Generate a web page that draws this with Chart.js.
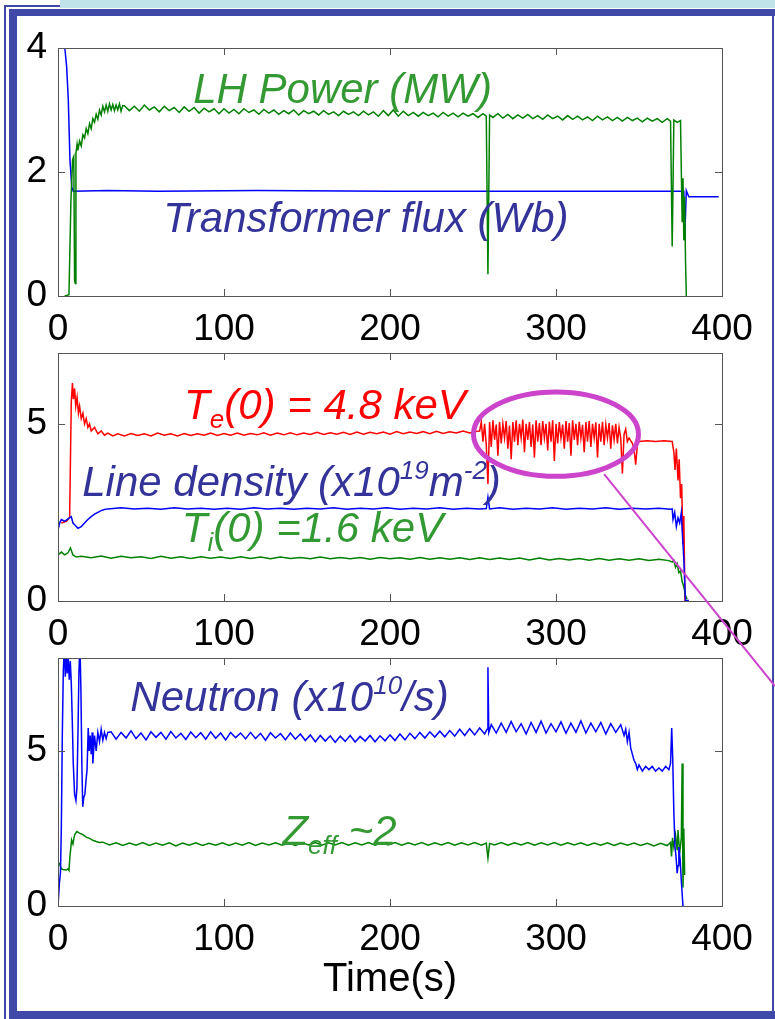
<!DOCTYPE html>
<html>
<head>
<meta charset="utf-8">
<script src="https://cdn.jsdelivr.net/npm/chart.js@4.4.1/dist/chart.umd.min.js"></script>
<style>
  body { margin: 0; background: #fff; width: 775px; height: 1019px; position: relative; overflow: hidden; }
  canvas { position: absolute; left: 0; }
  .f { position: absolute; background: #4048a8; z-index: 3; }
</style>
</head>
<body>
<div class="f" style="left:60px;top:0;width:715px;height:8px;background:#bfe3e8"></div>
<div class="f" style="left:4px;top:5px;width:2px;height:1014px"></div>
<div class="f" style="left:4px;top:5px;width:56px;height:2px"></div>
<div class="f" style="left:9px;top:9px;width:766px;height:7px"></div>
<div class="f" style="left:9px;top:9px;width:8px;height:1010px"></div>
<div class="f" style="left:9px;top:1011px;width:766px;height:8px"></div>
<div class="f" style="left:772px;top:16px;width:2px;height:995px"></div>

<canvas id="c1" width="775" height="350" style="top:0"></canvas>
<canvas id="c2" width="775" height="345" style="top:310px"></canvas>
<canvas id="c3" width="775" height="404" style="top:615px"></canvas>
<canvas id="over" width="775" height="1019" style="top:0;z-index:5;pointer-events:none"></canvas>

<script>
// ---- data (time in s, value) ----
const xTicks = [0, 100, 200, 300, 400];
const yTicks1 = [0, 2, 4];
const yTicks2 = [0, 5];
const yTicks3 = [0, 5];

const lhPower = [[4,0],[6.6,0.02],[7.2,0.8],[7.8,1.55],[8.8,2.2],[9.5,2.25],[10,0.25],[10.4,0.2],[10.8,2.3],[11.5,2.45],[12,2.35],[13,2.5],[14,2.42],[15,2.6],[16,2.55],[17,2.7],[18,2.62],[19,2.78],[20,2.7],[21,2.86],[22,2.8],[23,2.93],[24,2.85],[25,3.0],[26,2.92],[27,3.06],[28,2.97],[29,3.08],[30,2.98],[31,3.1],[32,3.0],[33,3.09],[34,2.99],[35,3.08],[36,3.0],[37,3.1],[38,2.98],[39,3.07],
  [40,3.07],[43,2.99],[46,3.06],[49,2.98],[52,3.08],[55,3.0],[58,3.05],[61,2.97],[64,3.06],[67,2.99],[70,3.04],[73,2.96],[76,3.05],[79,2.98],[82,3.04],[85,2.95],[88,3.03],[91,2.97],[94,3.02],[97,2.94],[100,3.02],[103,2.95],[106,3.01],[109,2.94],[112,3.02],[115,2.96],[118,3.0],[121,2.93],[124,3.01],[127,2.95],[130,3.0],[133,2.93],[136,2.99],[139,2.94],[142,3.0],[145,2.92],[148,2.99],[151,2.94],[154,2.98],[157,2.92],[160,2.99],[163,2.93],[166,2.97],[169,2.91],[172,2.98],[175,2.93],[178,2.97],[181,2.91],[184,2.98],[187,2.92],[190,2.97],[193,2.9],[196,2.99],[199,2.91],[202,3.0],[205,2.9],[208,2.98],[211,2.91],[214,2.96],[217,2.9],[220,2.96],[223,2.91],[226,2.95],[229,2.89],[232,2.96],[235,2.9],[238,2.95],[241,2.89],[244,2.95],[247,2.9],[250,2.94],[253,2.88],[256,2.94],[258,2.9],[259,0.35],[260,2.92],[262,2.88],[265,2.94],[268,2.87],[271,2.93],[274,2.86],[277,2.92],[280,2.87],[283,2.93],[286,2.86],[289,2.91],[292,2.85],[295,2.92],[298,2.86],[301,2.9],[304,2.84],[307,2.91],[310,2.85],[313,2.9],[316,2.84],[319,2.89],[322,2.83],[325,2.9],[328,2.84],[331,2.89],[334,2.83],[337,2.88],[340,2.82],[343,2.88],[346,2.83],[349,2.87],[352,2.81],[355,2.87],[358,2.82],[361,2.86],[364,2.8],[367,2.86],[369,2.82],[370,0.8],[371,2.84],[373,2.8],[375,2.83],[376,1.2],[376.5,1.9],[377,0.9],[377.5,1.6],[378,0.6],[378.5,0]];

const transformerFlux = [[0,4.3],[3.5,4.1],[4.2,3.98],[5.2,3.7],[6.2,3.17],[7.2,2.2],[8.3,1.76],[9.2,1.69],[30,1.7],[60,1.69],[120,1.7],[200,1.69],[260,1.69],[300,1.69],[376,1.69],[377,1.69],[377.5,0.9],[378.5,1.7],[380,1.6],[398,1.6]];

const teCentral = [[2,2.2],[5,2.25],[7,2.35],[7.5,4.0],[8,5.6],[8.7,6.15],[9.3,5.7],[10,6.0],[10.7,5.5],[11.5,5.75],[12.3,5.3],[13,5.5],[14,5.15],[15,5.3],[16,5.0],[17,5.15],[18,4.9],[19,5.0],[20,4.8],[22,4.9],[24,4.72],[26,4.8],[28,4.68],[30,4.74],[33,4.66],
  [36,4.72],[40,4.66],[44,4.73],[48,4.67],[52,4.72],[56,4.66],[60,4.74],[64,4.68],[68,4.72],[72,4.66],[76,4.73],[80,4.67],[84,4.72],[88,4.68],[92,4.74],[96,4.67],[100,4.73],[104,4.68],[108,4.74],[112,4.68],[116,4.73],[120,4.69],[124,4.75],[128,4.68],[132,4.74],[136,4.69],[140,4.75],[144,4.69],[148,4.74],[152,4.7],[156,4.76],[160,4.7],[164,4.75],[168,4.71],[172,4.76],[176,4.7],[180,4.77],[184,4.71],[188,4.76],[192,4.72],[196,4.77],[200,4.71],[204,4.78],[208,4.72],[212,4.77],[216,4.73],[220,4.78],[224,4.72],[228,4.79],[232,4.73],[236,4.78],[240,4.74],[244,4.8],[248,4.74],[252,4.79],
  [254,4.8],[255,5.05],[256,4.5],[257,5.0],[258,4.4],[259,3.3],[260,5.05],[261,4.35],[262,5.1],[263,4.55],[264,4.98],[265,4.1],[266,5.05],[267,4.45],[268,5.0],[269,4.6],[270,5.08],[271,4.3],[272,4.95],[273,4.0],[274,5.05],[275,4.5],[276,5.1],[277,4.4],[278,5.0],[279,4.6],[280,5.12],[281,4.2],[282,5.0],[283,4.55],[284,5.05],[285,4.35],[286,4.98],[287,4.05],[288,5.1],[289,4.5],[290,5.02],[291,4.4],[292,5.08],[293,4.6],[294,5.0],[295,4.25],[296,5.06],[297,4.5],[298,5.1],[299,3.95],[300,5.0],[301,4.45],[302,5.05],[303,4.6],[304,4.98],[305,4.3],[306,5.08],[307,4.5],[308,5.02],[309,4.1],[310,5.1],[311,4.55],[312,5.0],[313,4.4],[314,5.06],[315,4.6],[316,4.97],[317,4.2],[318,5.05],[319,4.5],[320,5.08],[321,4.35],[322,5.0],[323,4.6],[324,5.04],[325,4.05],[326,5.0],[327,4.5],[328,5.06],[329,4.4],[330,4.98],[331,4.6],[332,5.02],[333,4.3],[334,4.96],[335,4.55],[336,5.0],[337,4.45],[338,4.9],[339,4.6],[340,3.6],[341,4.7],[342,4.85],[343,4.5],[344,4.6],[346,4.45],[347,4.3],[348,3.85],[349,4.4],[350,4.5],[355,4.52],[360,4.5],[365,4.52],[370,4.5],[371,4.2],[371.7,3.7],[372.5,4.3],[373.5,3.4],[374.2,4.0],[375,2.9],[375.7,3.3],[376.5,1.6],[377,2.4],[377.7,0]];

const lineDensity = [[0,2.0],[1,2.2],[2,2.3],[4,2.25],[6,2.32],[8,2.38],[9,2.2],[10,2.15],[12,2.05],[14,2.1],[16,2.2],[18,2.3],[20,2.38],[22,2.45],[24,2.5],[26,2.55],[28,2.58],
  [30,2.6],[38,2.63],[46,2.6],[54,2.62],[62,2.59],[70,2.63],[78,2.6],[86,2.62],[94,2.59],[102,2.62],[110,2.59],[118,2.63],[126,2.6],[134,2.62],[142,2.59],[150,2.62],[158,2.6],[166,2.63],[174,2.59],[182,2.62],[190,2.6],[198,2.63],[206,2.59],[214,2.62],[222,2.6],[230,2.63],[238,2.59],[246,2.62],[254,2.6],[258,2.61],[259,2.93],[260,2.6],[266,2.63],[274,2.59],[282,2.62],[290,2.6],[298,2.63],[306,2.59],[314,2.62],[322,2.6],[330,2.63],[338,2.59],[346,2.62],[354,2.6],[362,2.62],[369,2.59],
  [370,2.6],[370.5,2.3],[371.5,2.5],[372.5,2.1],[373.5,2.35],[374.5,2.2],[375.5,2.5],[376,2.0],[377,1.2],[378,0],[380,0.02]];

const tiCentral = [[0,1.3],[2,1.38],[4,1.3],[6,1.36],[7.5,1.5],[9,1.3],[11,1.24],
  [14,1.26],[20,1.22],[26,1.27],[32,1.21],[38,1.26],[44,1.22],[50,1.25],[56,1.2],[62,1.26],[68,1.21],[74,1.25],[80,1.2],[86,1.25],[92,1.21],[98,1.24],[104,1.2],[110,1.25],[116,1.2],[122,1.24],[128,1.19],[134,1.24],[140,1.2],[146,1.23],[152,1.19],[158,1.24],[164,1.19],[170,1.23],[176,1.19],[182,1.23],[188,1.18],[194,1.23],[200,1.19],[206,1.22],[212,1.18],[218,1.23],[224,1.18],[230,1.22],[236,1.18],[242,1.22],[248,1.17],[254,1.22],[260,1.17],[266,1.21],[272,1.17],[278,1.21],[284,1.16],[290,1.21],[296,1.16],[302,1.2],[308,1.16],[314,1.2],[320,1.15],[326,1.2],[332,1.15],[338,1.19],[344,1.15],[350,1.19],[356,1.14],[362,1.18],[368,1.14],
  [370,1.1],[371,1.15],[372,0.95],[373,1.05],[374,0.8],[375,0.85],[376,0.55],[377,0.4],[378,0.15],[379,0.05]];

const neutron = [[0,0],[0.8,0.7],[1.5,1.1],[2,2.5],[2.6,5.5],[3.2,7.6],[3.8,8.3],[4.4,7.4],[5,8.1],[5.6,7.5],[6.2,8.0],[6.8,7.3],[7.4,7.9],[8,7.2],[8.6,6.0],[9.2,4.6],[10,3.6],[10.8,3.4],[11.4,3.8],[12,5.5],[12.6,7.5],[13.2,8.5],[13.8,7.0],[14.4,4.5],[14.9,3.2],[15.5,3.5],[16.2,3.6],[16.8,4.0],[17.5,4.4],[18.2,5.74],[18.8,5.0],[19.4,5.5],[20,4.9],[20.6,5.6],[21,4.6],[22,5.5],[23,5.0],[24,5.6],[25,5.3],[26,5.7],[27,5.35],[28,5.6],[29,5.4],[30,5.6],
  [32,5.62],[35,5.38],[38,5.6],[41,5.42],[44,5.65],[47,5.4],[50,5.58],[53,5.36],[56,5.62],[59,5.44],[62,5.6],[65,5.38],[68,5.63],[71,5.42],[74,5.57],[77,5.37],[80,5.61],[83,5.43],[86,5.59],[89,5.38],[92,5.62],[95,5.41],[98,5.58],[101,5.36],[104,5.6],[107,5.43],[110,5.58],[113,5.39],[116,5.6],[119,5.4],[122,5.57],[125,5.35],[128,5.59],[131,5.42],[134,5.56],[137,5.36],[140,5.58],[143,5.38],[146,5.55],[149,5.34],[152,5.52],[155,5.3],[158,5.5],[161,5.32],[164,5.49],[167,5.28],[170,5.48],[173,5.31],[176,5.5],[179,5.29],[182,5.47],[185,5.32],[188,5.5],[191,5.3],[194,5.49],[197,5.33],[200,5.52],[203,5.34],[206,5.55],[209,5.36],[212,5.57],[215,5.4],[218,5.6],[221,5.42],[224,5.62],[227,5.45],[230,5.64],[233,5.46],[236,5.66],[239,5.48],[242,5.7],[245,5.5],[248,5.72],[251,5.52],[254,5.74],[257,5.55],[258.5,5.7],[259,7.7],[259.5,5.6],[261,5.85],[264,5.58],[267,5.9],[270,5.6],[273,5.95],[276,5.62],[279,5.88],[282,5.55],[285,5.92],[288,5.6],[291,5.96],[294,5.58],[297,5.88],[300,5.62],[303,5.94],[306,5.57],[309,5.9],[312,5.6],[315,5.97],[318,5.58],[321,5.9],[324,5.62],[327,5.92],[330,5.55],[333,5.88],[336,5.6],[339,5.85],[341,5.5],
  [342,5.7],[343,5.3],[344,5.6],[345,5.1],[346,4.9],[347,4.7],[348,4.6],[349,4.4],[350,4.55],[352,4.35],[354,4.5],[356,4.4],[358,4.5],[360,4.35],[362,4.45],[364,4.35],[366,4.5],[368,4.4],[369,4.6],[369.7,5.74],[370.3,4.8],[371,3.0],[371.7,1.9],[372.3,1.6],[373,1.06],[373.5,1.3],[374,1.9],[374.8,1.5],[375.5,0.8],[376.5,0]];

const zEff = [[0,1.42],[1,1.35],[2,1.2],[3,1.18],[5,1.16],[6,1.2],[6.6,1.15],[7.2,1.6],[8.2,2.13],[9,2.0],[10,2.3],[11.4,2.4],[13,2.35],[15,2.3],[17,2.22],[19,2.18],[21,2.12],[23,2.08],[25,2.05],
  [27,2.06],[31,1.97],[35,2.04],[39,1.95],[43,2.03],[47,1.96],[51,2.05],[55,1.95],[59,2.03],[63,1.96],[67,2.04],[71,1.94],[75,2.03],[79,1.96],[83,2.04],[87,1.95],[91,2.02],[95,1.96],[99,2.04],[103,1.95],[107,2.03],[111,1.96],[115,2.05],[119,1.95],[123,2.03],[127,1.97],[131,2.04],[135,1.96],[139,2.03],[143,1.95],[147,2.04],[151,1.97],[155,2.05],[159,1.96],[163,2.04],[167,1.97],[171,2.05],[175,1.96],[179,2.04],[183,1.97],[187,2.05],[191,1.96],[195,2.04],[199,1.97],[203,2.05],[207,1.96],[211,2.04],[215,1.97],[219,2.05],[223,1.96],[227,2.04],[231,1.97],[235,2.05],[239,1.96],[243,2.04],[247,1.97],[251,2.05],[255,1.96],[258,2.03],[259,1.55],[260,2.02],[263,1.97],[267,2.05],[271,1.96],[275,2.04],[279,1.97],[283,2.05],[287,1.96],[291,2.04],[295,1.97],[299,2.05],[303,1.96],[307,2.04],[311,1.97],[315,2.04],[319,1.95],[323,2.03],[327,1.96],[331,2.04],[335,1.95],[339,2.03],[343,1.96],[347,2.03],[351,1.95],[355,2.02],[359,1.94],[363,2.02],[367,1.95],
  [369,2.05],[369.6,1.6],[370.2,2.2],[371,1.9],[372,2.3],[373,1.8],[373.5,2.45],[374.5,1.7],[375.5,2.2],[376,4.6],[376.5,0.6],[377,2.5],[377.5,1.0]];

// ---- styling ----
const FONT = "'Liberation Sans', Arial, sans-serif";
const GREEN = '#008000', BLUE = '#0000ff', RED = '#ff0000';
const TXT_GREEN = '#339933', TXT_BLUE = '#333399', TXT_RED = '#ff0000';

const pts = arr => arr.map(([x, y]) => ({ x, y }));
const line = (data, color) => ({ data: pts(data), borderColor: color, borderWidth: 1.5, pointRadius: 0, tension: 0, fill: false });

function drawRich(ctx, parts, cx, cy, size, color) {
  const small = size * 0.62;
  const fontOf = m => 'italic ' + (m ? small : size) + 'px ' + FONT;
  let total = 0;
  parts.forEach(([t, m]) => { ctx.font = fontOf(m); total += ctx.measureText(t).width; });
  let x = cx - total / 2;
  const base = cy + size * 0.36;
  ctx.fillStyle = color;
  ctx.textAlign = 'left';
  ctx.textBaseline = 'alphabetic';
  parts.forEach(([t, m]) => {
    ctx.font = fontOf(m);
    const y = m === 1 ? base + size * 0.22 : m === 2 ? base - size * 0.4 : base;
    ctx.fillText(t, x, y);
    x += ctx.measureText(t).width;
  });
}

const over = document.getElementById('over').getContext('2d');

const decor = {
  id: 'decor',
  afterDraw(chart, args, opts) {
    const { ctx, chartArea: a, scales: { x, y } } = chart;
    ctx.save();
    ctx.strokeStyle = '#555';
    ctx.lineWidth = 1;
    ctx.strokeRect(Math.round(a.left) + 0.5, Math.round(a.top) + 0.5, Math.round(a.right - a.left), Math.round(a.bottom - a.top));
    ctx.beginPath();
    xTicks.slice(1, -1).forEach(v => {
      const px = Math.round(x.getPixelForValue(v)) + 0.5;
      ctx.moveTo(px, a.top); ctx.lineTo(px, a.top + 7);
      ctx.moveTo(px, a.bottom); ctx.lineTo(px, a.bottom - 7);
    });
    opts.yTicks.forEach(v => {
      if (v <= y.min || v >= y.max) return;
      const py = Math.round(y.getPixelForValue(v)) + 0.5;
      ctx.moveTo(a.left, py); ctx.lineTo(a.left + 7, py);
      ctx.moveTo(a.right, py); ctx.lineTo(a.right - 7, py);
    });
    ctx.stroke();
    opts.labels.forEach(l => drawRich(ctx, l.parts, x.getPixelForValue(l.t), y.getPixelForValue(l.v), 42, l.color));
    if (opts.ellipse) {
      const e = opts.ellipse;
      const cx = x.getPixelForValue(e.t), cy = y.getPixelForValue(e.v);
      const rx = x.getPixelForValue(e.t + e.dt) - cx, ry = cy - y.getPixelForValue(e.v + e.dv);
      ctx.strokeStyle = '#cc44cc';
      ctx.lineWidth = 5;
      ctx.beginPath();
      ctx.ellipse(cx, cy, rx, ry, 0, 0, Math.PI * 2);
      ctx.stroke();
      // connector to the right edge of the page
      const sx = x.getPixelForValue(e.lineT), sy = y.getPixelForValue(e.lineV) + chart.canvas.offsetTop;
      over.strokeStyle = '#cc44cc';
      over.lineWidth = 2;
      over.beginPath();
      over.moveTo(sx, sy);
      over.lineTo(775, sy + (775 - sx) * e.slope);
      over.stroke();
    }
    ctx.restore();
  }
};

function makeChart(id, datasets, yMax, yTicks, canvasH, bottomH, decorOpts, title) {
  return new Chart(document.getElementById(id), {
    type: 'line',
    data: { datasets },
    options: {
      responsive: false,
      animation: false,
      devicePixelRatio: 1,
      layout: { padding: { left: 0, right: 53, top: canvasH - bottomH - 248, bottom: 0 } },
      plugins: { legend: { display: false }, tooltip: { enabled: false }, decor: decorOpts },
      scales: {
        x: {
          type: 'linear', min: 0, max: 400,
          grid: { display: false, drawTicks: false },
          border: { display: false },
          afterBuildTicks: s => { s.ticks = xTicks.map(v => ({ value: v })); },
          afterFit: s => { s.height = bottomH; s.paddingLeft = 0; s.paddingRight = 0; },
          ticks: { font: { family: FONT, size: 37 }, color: '#000', padding: 12, maxRotation: 0, autoSkip: false },
          title: title ? { display: true, text: title, font: { family: FONT, size: 40 }, color: '#000', padding: { top: 0, bottom: 15 } } : { display: false }
        },
        y: {
          type: 'linear', min: 0, max: yMax,
          grid: { display: false, drawTicks: false },
          border: { display: false },
          afterBuildTicks: s => { s.ticks = yTicks.map(v => ({ value: v })); },
          afterFit: s => { s.width = 58; s.paddingTop = 0; s.paddingBottom = 0; },
          ticks: { font: { family: FONT, size: 37 }, color: '#000', padding: 11 }
        }
      }
    },
    plugins: [decor]
  });
}

makeChart('c1', [line(lhPower, GREEN), line(transformerFlux, BLUE)], 4, yTicks1, 350, 54, {
  yTicks: yTicks1,
  labels: [
    { t: 171.4, v: 3.35, color: TXT_GREEN, parts: [['LH Power (MW)', 0]] },
    { t: 185.5, v: 1.27, color: TXT_BLUE, parts: [['Transformer flux (Wb)', 0]] }
  ]
});

makeChart('c2', [line(lineDensity, BLUE), line(tiCentral, GREEN), line(teCentral, RED)], 7, yTicks2, 345, 54, {
  yTicks: yTicks2,
  labels: [
    { t: 160.8, v: 5.56, color: TXT_RED, parts: [['T', 0], ['e', 1], ['(0) = 4.8 keV', 0]] },
    { t: 140.7, v: 3.39, color: TXT_BLUE, parts: [['Line density (x10', 0], ['19', 2], ['m', 0], ['-2', 2], [')', 0]] },
    { t: 153.3, v: 2.1, color: TXT_GREEN, parts: [['T', 0], ['i', 1], ['(0) =1.6 keV', 0]] }
  ],
  ellipse: { t: 300, v: 4.71, dt: 49.7, dv: 1.19, lineT: 329, lineV: 3.58, slope: 1.24 }
});

makeChart('c3', [line(neutron, BLUE), line(zEff, GREEN)], 8, yTicks3, 404, 113, {
  yTicks: yTicks3,
  labels: [
    { t: 139.5, v: 6.79, color: TXT_BLUE, parts: [['Neutron (x10', 0], ['10', 2], ['/s)', 0]] },
    { t: 169.6, v: 2.47, color: TXT_GREEN, parts: [['Z', 0], ['eff', 1], [' ~2', 0]] }
  ]
}, 'Time(s)');
</script>
</body>
</html>
